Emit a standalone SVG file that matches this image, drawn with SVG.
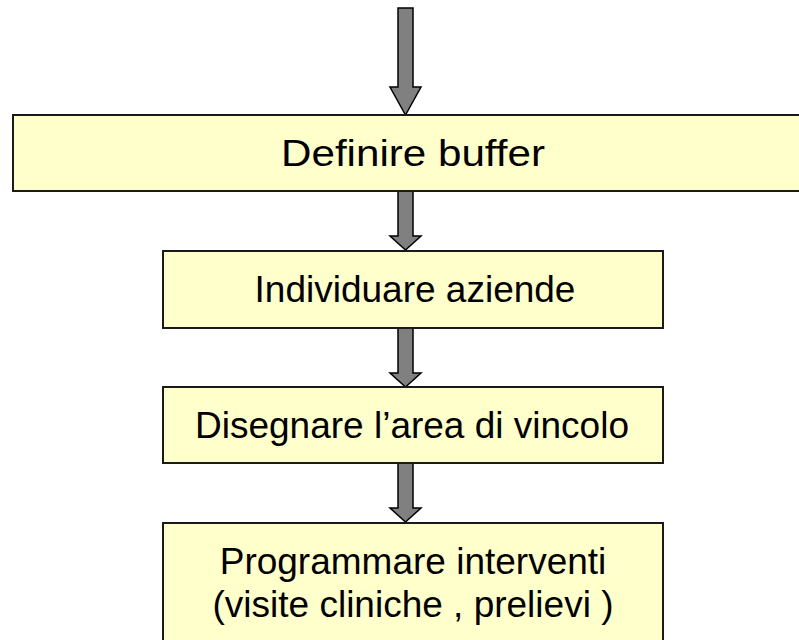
<svg xmlns="http://www.w3.org/2000/svg" width="799" height="640" viewBox="0 0 799 640">
<style>
.box{fill:#ffffcc;stroke:#1a1a1a;stroke-width:2}
.arr{fill:#808080;stroke:#000;stroke-width:1.5;stroke-linejoin:miter}
.t{font-family:"Liberation Sans",Arial,sans-serif;font-size:37px;fill:#000;text-anchor:middle}
</style>
<rect width="799" height="640" fill="#fff"/>
<g id="connectors">
<path class="arr" d="M398,8 H413 V87 H421 L405.5,115 L390,87 H398 Z"/>
<path class="arr" d="M398,191 H413 V236 H421 L405.5,250 L390,236 H398 Z"/>
<path class="arr" d="M398,328 H413 V373 H421 L405.5,387 L390,373 H398 Z"/>
<path class="arr" d="M398,463 H413 V508 H421 L405.5,522 L390,508 H398 Z"/>
</g>
<g id="n1">
<rect class="box" x="13" y="115" width="800" height="76"/>
<text class="t" x="413" y="166" style="font-size:36px" textLength="264" lengthAdjust="spacingAndGlyphs">Definire buffer</text>
</g>
<g id="n2">
<rect class="box" x="163" y="251" width="500" height="77"/>
<text class="t" x="415" y="302">Individuare aziende</text>
</g>
<g id="n3">
<rect class="box" x="163" y="387" width="500" height="76"/>
<text class="t" x="412" y="438">Disegnare l’area di vincolo</text>
</g>
<g id="n4">
<rect class="box" x="163" y="523" width="500" height="130"/>
<text class="t" x="413" y="574">Programmare interventi</text>
<text class="t" x="413" y="617">(visite cliniche , prelievi )</text>
</g>
</svg>
